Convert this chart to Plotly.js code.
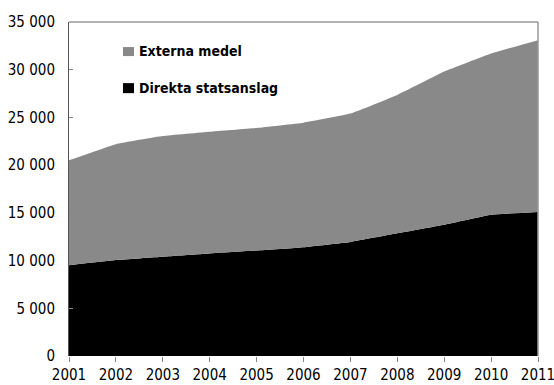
<!DOCTYPE html>
<html><head><meta charset="utf-8">
<script src="https://cdn.plot.ly/plotly-3.0.1.min.js"></script>
<style>html,body{margin:0;padding:0;background:#fff}</style>
</head><body>
<div id="chart" style="width:554px;height:385px"></div>
<script>
const years = [2001,2002,2003,2004,2005,2006,2007,2008,2009,2010,2011];
const direkta = [9500,10050,10400,10750,11050,11400,11950,12850,13750,14800,15100];
const externa = [11000,12150,12650,12750,12850,13050,13450,14500,16050,16900,18000];
const seriesNames = ['Direkta statsanslag', 'Externa medel'];
const seriesColors = ['#000000', '#898989'];
const FONT = '"Liberation Sans Narrow","DejaVu Sans Condensed","DejaVu Sans",sans-serif';

const traces = [
  {x: years, y: direkta, name: seriesNames[0], type: 'scatter', mode: 'none',
   stackgroup: 'a', fillcolor: seriesColors[0], line: {width: 0, shape: 'spline', smoothing: 0.3}},
  {x: years, y: externa, name: seriesNames[1], type: 'scatter', mode: 'none',
   stackgroup: 'a', fillcolor: seriesColors[1], line: {width: 0, shape: 'spline', smoothing: 0.3}}
];

// legend drawn as squares + labels (top entry = Externa medel)
const legY = [[0.898, 0.925, 0.912], [0.787, 0.817, 0.802]]; // Externa, Direkta
const legOrder = [1, 0];
const shapes = [
  {type: 'line', xref: 'paper', yref: 'paper', x0: 0, x1: 1, y0: 1, y1: 1, line: {color: '#999', width: 1.5}},
  {type: 'line', xref: 'paper', yref: 'paper', x0: 1, x1: 1, y0: 0, y1: 1, line: {color: '#999', width: 1.5}}
];
const annotations = [];
legOrder.forEach((si, k) => {
  shapes.push({type: 'rect', xref: 'paper', yref: 'paper', x0: 0.1151, x1: 0.1386,
               y0: legY[k][0], y1: legY[k][1], fillcolor: seriesColors[si], line: {width: 0}});
  annotations.push({xref: 'paper', yref: 'paper', x: 0.145, y: legY[k][2], xanchor: 'left', yanchor: 'middle',
                    text: seriesNames[si], showarrow: false,
                    font: {family: FONT, size: 14, weight: 'bold', color: '#000', stretch: 'condensed'}});
});

const layout = {
  width: 554, height: 385,
  margin: {l: 69, r: 16, t: 22, b: 29},
  paper_bgcolor: '#fff', plot_bgcolor: '#fff',
  separators: ', ',
  font: {family: FONT, size: 15, color: '#000', stretch: 'condensed'},
  showlegend: false,
  xaxis: {range: [2001, 2011], tickvals: years, ticktext: years.map(String),
          ticks: 'outside', ticklen: 5, tickcolor: '#888', showgrid: false, zeroline: false,
          showline: false, tickfont: {size: 15, stretch: 'condensed'}, ticklabeloverflow: 'allow'},
  yaxis: {range: [0, 35000], dtick: 5000, tick0: 0, tickformat: ',d',
          ticks: 'inside', ticklen: 4, tickcolor: '#888', showgrid: false, zeroline: false,
          showline: true, linecolor: '#555', linewidth: 1, tickfont: {size: 15, stretch: 'condensed'}, ticklabelstandoff: 10},
  shapes: shapes,
  annotations: annotations
};
Plotly.newPlot('chart', traces, layout, {displayModeBar: false, staticPlot: true});
</script>
</body></html>
